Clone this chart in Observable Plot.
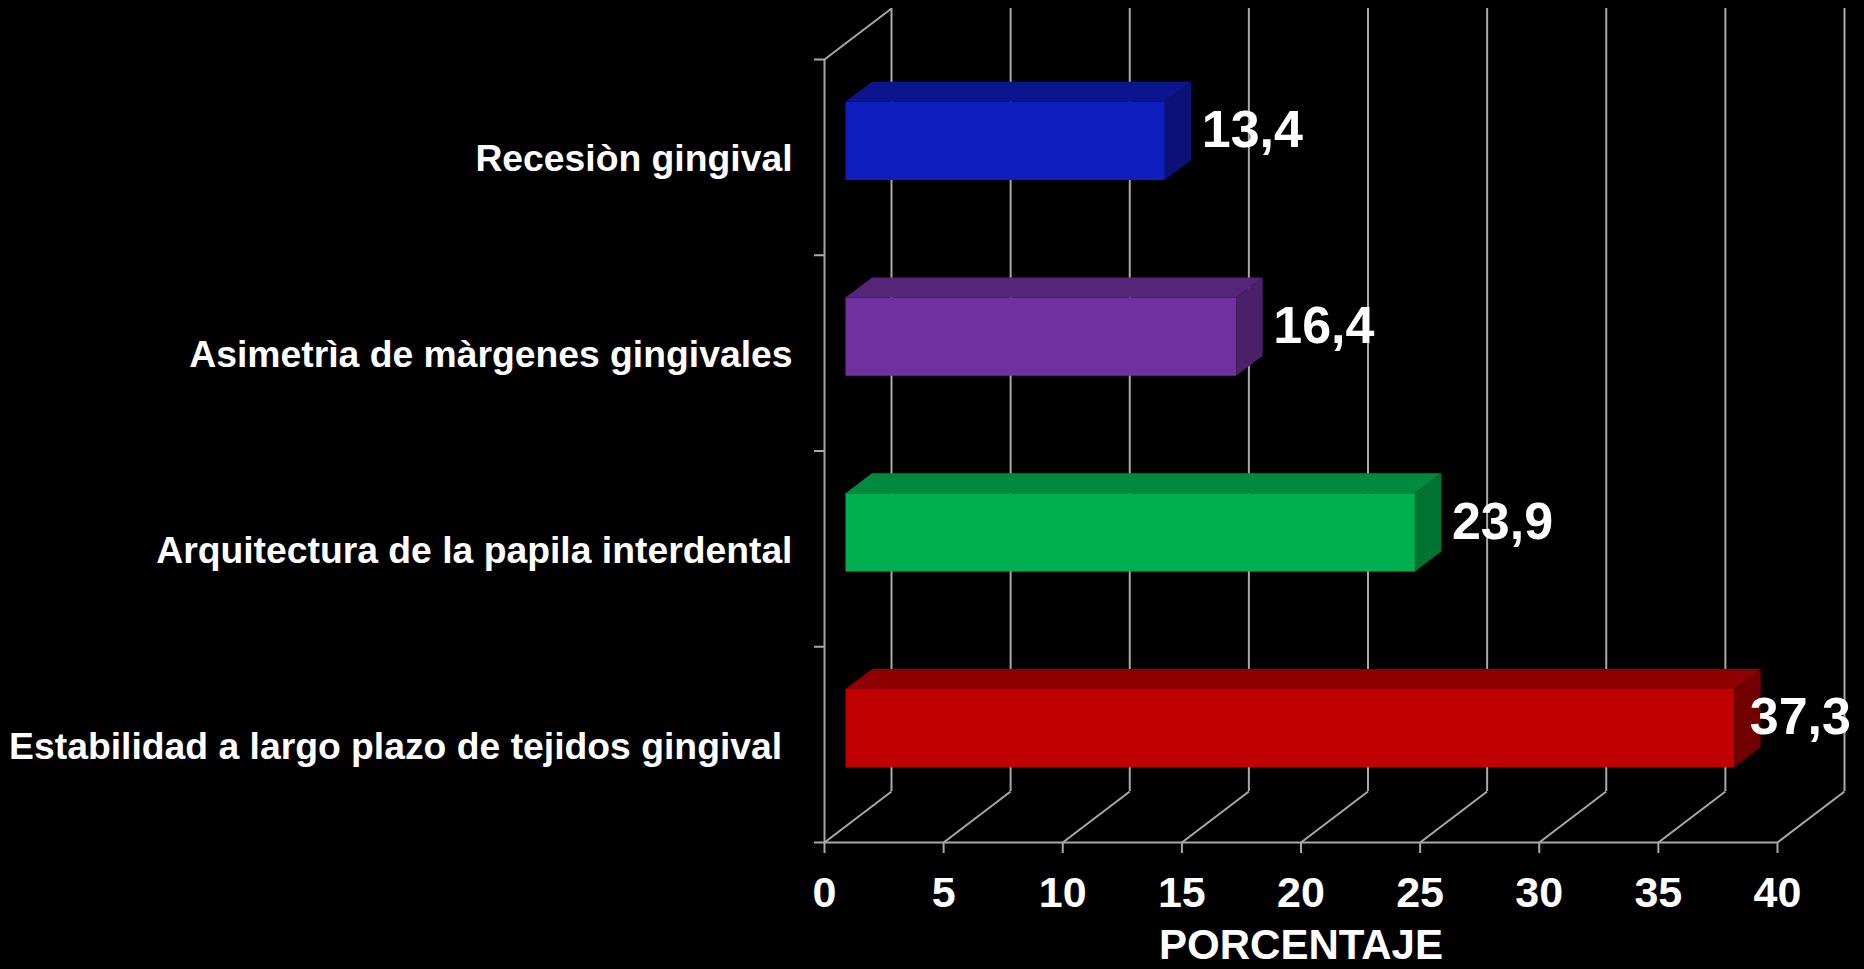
<!DOCTYPE html>
<html>
<head>
<meta charset="utf-8">
<script src="https://cdn.jsdelivr.net/npm/d3@7"></script>
<script src="https://cdn.jsdelivr.net/npm/@observablehq/plot@0.6"></script>
<style>
  html, body { margin: 0; padding: 0; background: #000; }
  #chart { width: 1864px; height: 969px; overflow: hidden; }
</style>
</head>
<body>
<div id="chart"></div>
<script>
// ---- Data (top to bottom as in the chart) ----
const categories = [
  "Recesiòn gingival",
  "Asimetrìa de màrgenes gingivales",
  "Arquitectura de la papila interdental",
  "Estabilidad a largo plazo de tejidos gingival\u00a0"
];
const values = [13.4, 16.4, 23.9, 37.3];
const xTicks = [0, 5, 10, 15, 20, 25, 30, 35, 40];
const xTitle = "PORCENTAJE";

// ---- Styles ----
const frontColors = ["#0f1fbf", "#7030a0", "#00b050", "#c00000"];
const topColors   = ["#0b168e", "#55257a", "#008a40", "#8f0000"];
const sideColors  = ["#0a1278", "#4a2068", "#007231", "#720000"];
const gridColor = "#a8a8a8";
const font = "Liberation Sans, Arial, Helvetica, sans-serif";

// ---- Layout ----
const W = 1864, H = 969;
const mL = 824, mR = 87, mT = 59, mB = 127;
const n = categories.length;
const xMax = 40;
const kx = (W - mL - mR) / xMax;       // px per x unit
const ky = (H - mT - mB) / n;          // px per y unit
// 3D depth (pixels)
const wallDX = 67, wallDY = 51;        // full depth of the chart box
const barDX = 21.5, barDY = 16;        // bar front plane offset
const bdX = 26.5, bdY = 20;            // bar depth
const WDX = wallDX / kx, WDY = wallDY / ky;
const BDX = bdX / kx, BDY = bdY / ky;

const rows = categories.map((c, k) => ({cat: c, value: values[k], k, pos: n - 1 - k}));
const topFaces = rows.flatMap(r => [
  {k: r.k, y: r.pos + 0.7, x1: 0, x2: r.value},
  {k: r.k, y: r.pos + 0.7 + BDY, x1: BDX, x2: r.value + BDX}
]);
const sideFaces = rows.flatMap(r => [
  {k: r.k, x: r.value, y1: r.pos + 0.3, y2: r.pos + 0.7},
  {k: r.k, x: r.value + BDX, y1: r.pos + 0.3 + BDY, y2: r.pos + 0.7 + BDY}
]);
// keep value labels inside the chart area (as the original does for the last bar)
const labelMax = 36.4;

const chart = Plot.plot({
  width: W,
  height: H,
  marginLeft: mL, marginRight: mR, marginTop: mT, marginBottom: mB,
  x: {domain: [0, xMax], axis: null},
  y: {domain: [0, n], axis: null},
  color: {type: "identity"},
  style: {background: "#000", color: "#fff", fontFamily: font, overflow: "visible"},
  marks: [
    // back wall grid lines
    Plot.ruleX(xTicks, {x: d => d, y1: 0, y2: n, dx: wallDX, dy: -wallDY, stroke: gridColor, strokeWidth: 2}),
    // floor diagonals
    Plot.link(xTicks, {x1: d => d, y1: 0, x2: d => d + WDX, y2: WDY, stroke: gridColor, strokeWidth: 2}),
    // left wall
    Plot.ruleX([0], {x: d => d, y1: 0, y2: n, stroke: gridColor, strokeWidth: 2}),
    Plot.link([0], {x1: 0, y1: n, x2: WDX, y2: n + WDY, stroke: gridColor, strokeWidth: 2}),
    // front baseline
    Plot.ruleY([0], {y: d => d, x1: 0, x2: xMax, stroke: gridColor, strokeWidth: 2}),
    // y ticks
    Plot.ruleY(d3.range(n + 1), {y: d => d, x1: -10 / kx, x2: 0, stroke: gridColor, strokeWidth: 2}),
    // x ticks
    Plot.ruleX(xTicks, {x: d => d, y1: 0, y2: -11 / ky, stroke: gridColor, strokeWidth: 2}),
    // bars: front, top, side faces
    Plot.rect(rows, {x1: 0, x2: "value", y1: d => d.pos + 0.3, y2: d => d.pos + 0.7,
      fill: d => frontColors[d.k], dx: barDX, dy: -barDY}),
    Plot.areaX(topFaces, {y: "y", x1: "x1", x2: "x2", z: "k",
      fill: d => topColors[d.k], dx: barDX, dy: -barDY}),
    Plot.areaY(sideFaces, {x: "x", y1: "y1", y2: "y2", z: "k",
      fill: d => sideColors[d.k], dx: barDX, dy: -barDY}),
    // value labels
    Plot.text(rows, {
      x: d => Math.min(d.value, labelMax), y: d => d.pos + 0.5,
      text: d => String(d.value).replace(".", ","),
      textAnchor: "start", lineAnchor: "middle",
      dx: barDX + bdX + 10, dy: -27,
      fill: "#fff", fontSize: 52, fontWeight: "bold", fontFamily: font
    }),
    // category labels
    Plot.text(rows, {
      x: 0, y: d => d.pos + 0.5, text: "cat",
      textAnchor: "end", lineAnchor: "middle", dx: -32, dy: 2,
      fill: "#fff", fontSize: 37.3, fontWeight: "bold", fontFamily: font
    }),
    // x tick labels
    Plot.text(xTicks, {
      x: d => d, y: 0, text: d => String(d),
      textAnchor: "middle", lineAnchor: "middle", dy: 51,
      fill: "#fff", fontSize: 43, fontWeight: "bold", fontFamily: font
    }),
    // x axis title
    Plot.text([xTitle], {
      frameAnchor: "bottom", text: d => d, lineAnchor: "middle", dy: 103,
      fill: "#fff", fontSize: 42, fontWeight: "bold", fontFamily: font
    })
  ]
});
document.getElementById("chart").appendChild(chart);
</script>
</body>
</html>
